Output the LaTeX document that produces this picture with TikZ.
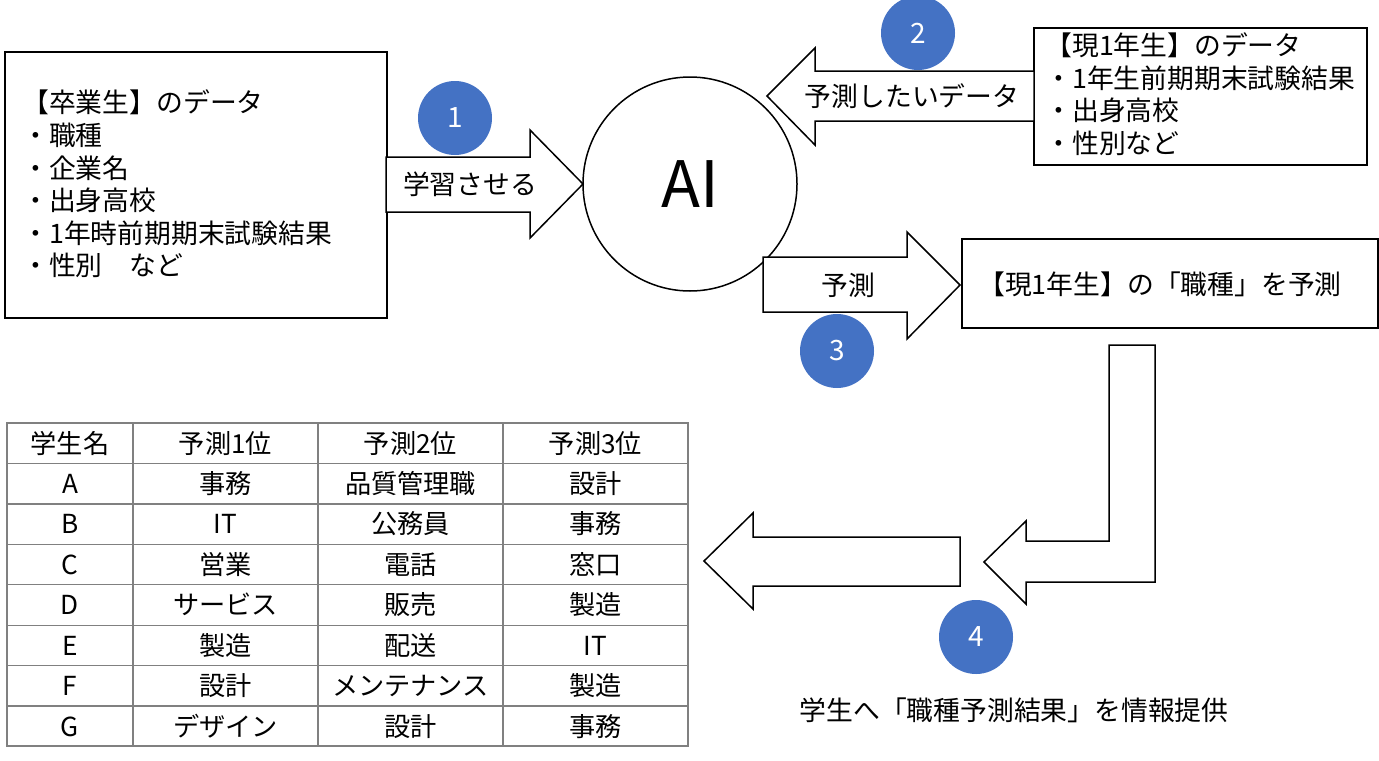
\documentclass[tikz,border=0pt]{standalone}
\usepackage{fontspec}
\setmainfont{Noto Sans CJK JP}
\definecolor{badge}{HTML}{4472C4}
\definecolor{gridline}{HTML}{808080}

\begin{document}
\begin{tikzpicture}[
    x=0.5pt, y=-0.5pt,
    box/.style={draw,line width=0.75pt,inner sep=0pt},
    blockarrow/.style={draw,line width=0.75pt,fill=white,line join=miter},
    txt/.style={font=\fontsize{13.4}{16.3}\selectfont,inner sep=0pt,text height=11.7pt,text depth=1.7pt},
    listtxt/.style={font=\fontsize{13.4}{16.3}\selectfont,inner sep=0pt,align=left,anchor=west},
    cell/.style={font=\fontsize{13.1}{16}\selectfont,inner sep=0pt,text height=11.4pt,text depth=1.6pt},
    badgenum/.style={circle,fill=badge,minimum size=37pt,inner sep=0pt,text=white,font=\fontsize{14}{14}\selectfont},
    tablerule/.style={draw=gridline,line width=0.6pt}
]
\useasboundingbox (0,0) rectangle (1379,760);

% data boxes
\node[box,minimum width=191pt,minimum height=133pt] (gradbox) at (196,185) {};
\node[listtxt] (gradtxt) at (22,184) {【卒業生】のデータ\\・職種\\・企業名\\・出身高校\\・1年時前期期末試験結果\\・性別　など};
\node[box,minimum width=166.5pt,minimum height=68.5pt] (curbox) at (1200.5,96.5) {};
\node[listtxt] (curtxt) at (1045,94) {【現1年生】のデータ\\・1年生前期期末試験結果\\・出身高校\\・性別など};
\node[box,minimum width=208pt,minimum height=44.5pt] (predbox) at (1170,283.5) {};
\node[txt] (predtxt) at (1160,284) {【現1年生】の「職種」を予測};

% AI
\node[circle,draw,line width=0.75pt,minimum size=107pt,inner sep=0pt,font=\fontsize{32}{32}\selectfont] (ai) at (690,184) {AI};

% block arrows
\draw[blockarrow] (386,157) -- (530,157) -- (530,130) -- (583,184) -- (530,238) -- (530,212) -- (386,212) -- cycle;
\node[txt] (learn) at (470,184) {学習させる};
\draw[blockarrow] (1034,71) -- (815,71) -- (815,48) -- (767,96) -- (815,145) -- (815,121) -- (1034,121) -- cycle;
\node[txt] (want) at (912,96) {予測したいデータ};
\draw[blockarrow] (763,257) -- (907,257) -- (907,232) -- (960,285) -- (907,339) -- (907,312) -- (763,312) -- cycle;
\node[txt] (predict) at (848,285) {予測};
\draw[blockarrow] (1109,345) -- (1155,345) -- (1155,582) -- (1026,582) -- (1026,604) -- (984,562) -- (1026,521) -- (1026,541) -- (1109,541) -- cycle;
\draw[blockarrow] (960,537) -- (753,537) -- (753,513) -- (704,561) -- (753,609) -- (753,586) -- (960,586) -- cycle;

% step numbers
\node[badgenum] (n1) at (455,118) {1};
\node[badgenum] (n2) at (918,33) {2};
\node[badgenum] (n3) at (837,351) {3};
\node[badgenum] (n4) at (976,637) {4};
\node[txt] (inform) at (1014,710) {学生へ「職種予測結果」を情報提供};

% result table
\draw[tablerule] (7,423) rectangle (688,746);
\draw[tablerule] (133,423) -- (133,746);
\draw[tablerule] (318,423) -- (318,746);
\draw[tablerule] (503,423) -- (503,746);
\draw[tablerule] (7,463.4) -- (688,463.4);
\draw[tablerule] (7,503.9) -- (688,503.9);
\draw[tablerule] (7,544.3) -- (688,544.3);
\draw[tablerule] (7,584.7) -- (688,584.7);
\draw[tablerule] (7,625.1) -- (688,625.1);
\draw[tablerule] (7,665.6) -- (688,665.6);
\draw[tablerule] (7,706) -- (688,706);

\node[cell] (h0) at (70,443.2) {学生名};
\node[cell] (h1) at (225.5,443.2) {予測1位};
\node[cell] (h2) at (410.5,443.2) {予測2位};
\node[cell] (h3) at (595.5,443.2) {予測3位};

\node[cell] (a0) at (70,483.7) {A};
\node[cell] (a1) at (225.5,483.7) {事務};
\node[cell] (a2) at (410.5,483.7) {品質管理職};
\node[cell] (a3) at (595.5,483.7) {設計};

\node[cell] (b0) at (70,524.1) {B};
\node[cell] (b1) at (225.5,524.1) {IT};
\node[cell] (b2) at (410.5,524.1) {公務員};
\node[cell] (b3) at (595.5,524.1) {事務};

\node[cell] (c0) at (70,564.5) {C};
\node[cell] (c1) at (225.5,564.5) {営業};
\node[cell] (c2) at (410.5,564.5) {電話};
\node[cell] (c3) at (595.5,564.5) {窓口};

\node[cell] (d0) at (70,604.9) {D};
\node[cell] (d1) at (225.5,604.9) {サービス};
\node[cell] (d2) at (410.5,604.9) {販売};
\node[cell] (d3) at (595.5,604.9) {製造};

\node[cell] (e0) at (70,645.4) {E};
\node[cell] (e1) at (225.5,645.4) {製造};
\node[cell] (e2) at (410.5,645.4) {配送};
\node[cell] (e3) at (595.5,645.4) {IT};

\node[cell] (f0) at (70,685.8) {F};
\node[cell] (f1) at (225.5,685.8) {設計};
\node[cell] (f2) at (410.5,685.8) {メンテナンス};
\node[cell] (f3) at (595.5,685.8) {製造};

\node[cell] (g0) at (70,726.2) {G};
\node[cell] (g1) at (225.5,726.2) {デザイン};
\node[cell] (g2) at (410.5,726.2) {設計};
\node[cell] (g3) at (595.5,726.2) {事務};
\end{tikzpicture}
\end{document}
